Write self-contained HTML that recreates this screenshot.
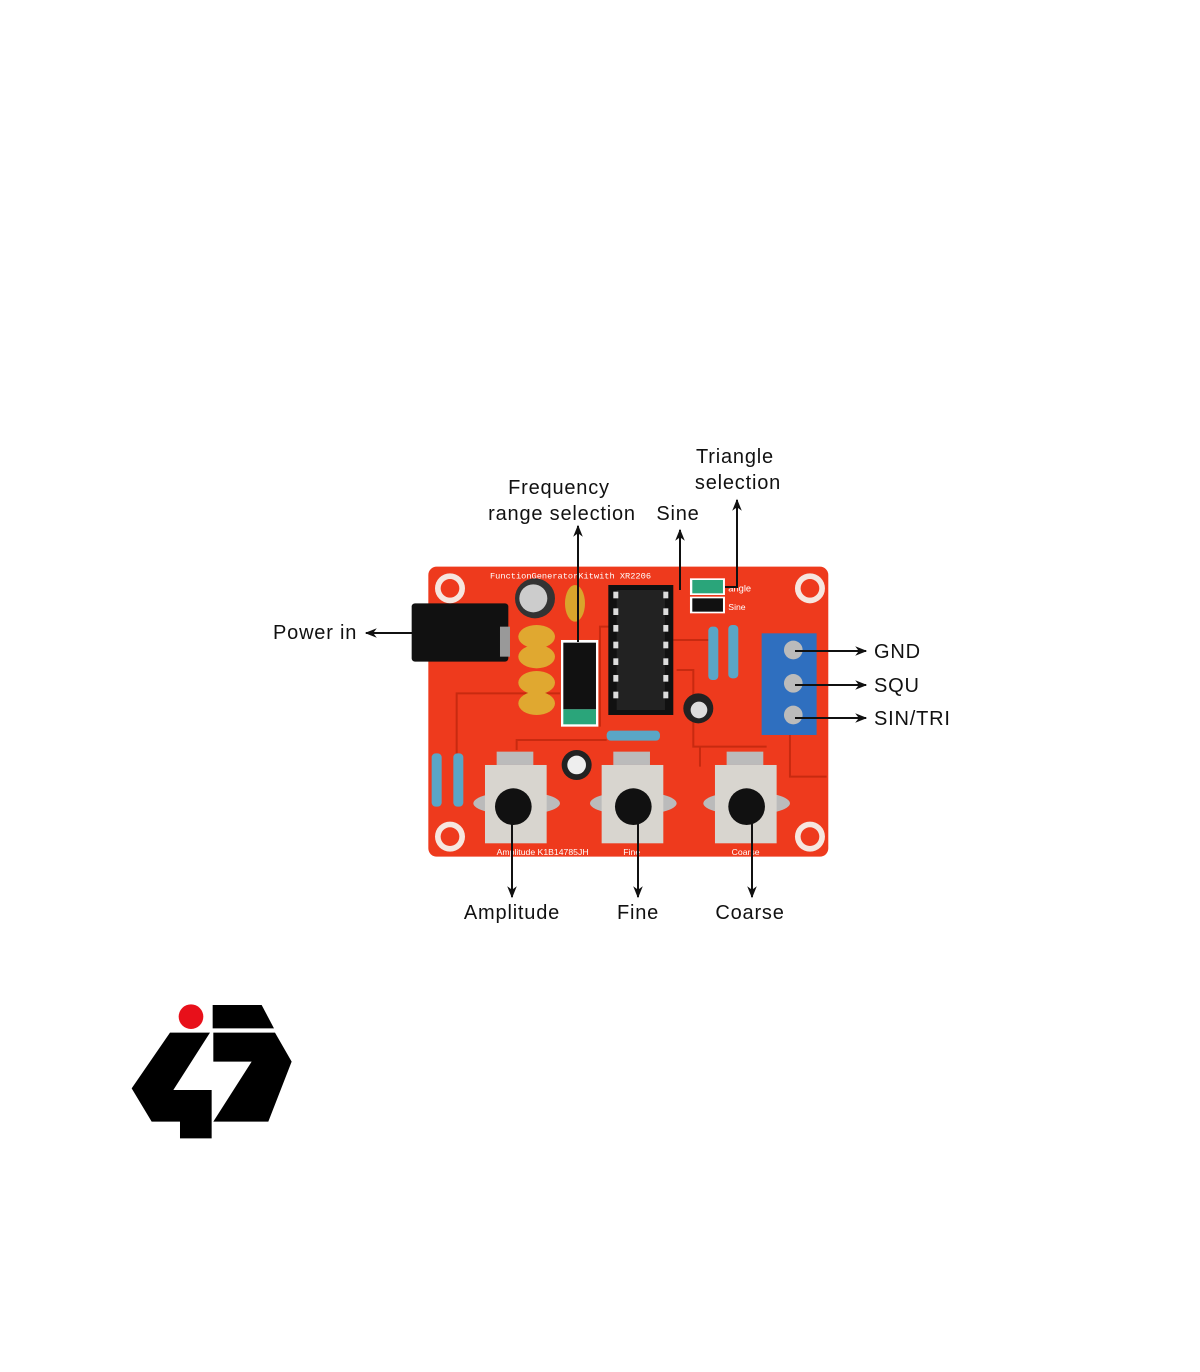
<!DOCTYPE html>
<html><head><meta charset="utf-8"><style>
html,body{margin:0;padding:0;background:#fff;}
body{width:1200px;height:1372px;position:relative;overflow:hidden;font-family:"Liberation Sans",sans-serif;}
svg{position:absolute;left:0;top:0;}
</style></head><body>
<svg width="1200" height="1372" viewBox="0 0 1200 1372" xmlns="http://www.w3.org/2000/svg">
<defs>
<marker id="ah" viewBox="0 0 10 10" refX="9" refY="5" markerWidth="16" markerHeight="12" orient="auto-start-reverse" markerUnits="userSpaceOnUse">
<path d="M0,1 L10,5 L0,9 L3,5 z" fill="#111"/></marker>
</defs>
<!-- board -->
<g transform="translate(400,560) scale(0.3333)">
<rect x="85" y="20" width="1200" height="870" rx="25" fill="#ee3a1d"/>
<g fill="none" stroke="#c82a10" stroke-width="6">
<path d="M170 620 V400 H480"/><path d="M350 570 V540 H620"/><path d="M820 240 H930"/>
<path d="M830 330 H880 V560 H1100"/><path d="M900 560 V620"/><path d="M1170 520 V650 H1280"/>
<path d="M600 500 V200 H630"/>
</g>
<g fill="#f6e6df"><circle cx="150" cy="85" r="45"/><circle cx="1230" cy="85" r="45"/><circle cx="150" cy="830" r="45"/><circle cx="1230" cy="830" r="45"/></g>
<g fill="#ee3a1d"><circle cx="150" cy="85" r="28"/><circle cx="1230" cy="85" r="28"/><circle cx="150" cy="830" r="28"/><circle cx="1230" cy="830" r="28"/></g>
<text x="270" y="55" font-size="26" fill="#fff" font-family="Liberation Mono,monospace">FunctionGeneratorKitwith XR2206</text>
<rect x="35" y="130" width="290" height="175" rx="10" fill="#111"/>
<rect x="300" y="200" width="30" height="90" fill="#999"/>
<circle cx="405" cy="115" r="60" fill="#333"/><circle cx="400" cy="115" r="42" fill="#ccc"/>
<ellipse cx="525" cy="130" rx="30" ry="55" fill="#d9a52c"/>
<g fill="#e0a830"><ellipse cx="410" cy="230" rx="55" ry="35"/><ellipse cx="410" cy="290" rx="55" ry="35"/><ellipse cx="410" cy="368" rx="55" ry="35"/><ellipse cx="410" cy="430" rx="55" ry="35"/></g>
<rect x="483" y="240" width="112" height="260" fill="#fff"/><rect x="490" y="248" width="98" height="200" fill="#111"/><rect x="490" y="448" width="98" height="45" fill="#2aa57a"/>
<rect x="625" y="75" width="195" height="390" fill="#111"/>
<rect x="650" y="90" width="145" height="360" fill="#222"/>
<g fill="#ddd"><rect x="640" y="95" width="15" height="20"/><rect x="640" y="145" width="15" height="20"/><rect x="640" y="195" width="15" height="20"/><rect x="640" y="245" width="15" height="20"/><rect x="640" y="295" width="15" height="20"/><rect x="640" y="345" width="15" height="20"/><rect x="640" y="395" width="15" height="20"/><rect x="790" y="95" width="15" height="20"/><rect x="790" y="145" width="15" height="20"/><rect x="790" y="195" width="15" height="20"/><rect x="790" y="245" width="15" height="20"/><rect x="790" y="295" width="15" height="20"/><rect x="790" y="345" width="15" height="20"/><rect x="790" y="395" width="15" height="20"/></g>
<rect x="870" y="55" width="105" height="50" fill="#fff"/><rect x="877" y="60" width="92" height="40" fill="#2aa57a"/>
<rect x="870" y="110" width="105" height="50" fill="#fff"/><rect x="877" y="115" width="92" height="40" fill="#111"/>
<text x="985" y="95" font-size="28" fill="#fff">angle</text><text x="985" y="150" font-size="26" fill="#fff">Sine</text>
<g fill="#5aa6c6"><rect x="925" y="200" width="30" height="160" rx="12"/><rect x="985" y="195" width="30" height="160" rx="12"/><rect x="620" y="512" width="160" height="30" rx="12"/><rect x="95" y="580" width="30" height="160" rx="12"/><rect x="160" y="580" width="30" height="160" rx="12"/></g>
<circle cx="895" cy="445" r="45" fill="#222"/><circle cx="897" cy="450" r="25" fill="#ddd"/>
<circle cx="530" cy="615" r="45" fill="#222"/><circle cx="530" cy="615" r="28" fill="#eee"/>
<rect x="1085" y="220" width="165" height="305" fill="#2f6fbf"/>
<g fill="#bbb"><circle cx="1180" cy="270" r="28"/><circle cx="1180" cy="370" r="28"/><circle cx="1180" cy="465" r="28"/></g>
<g><ellipse cx="350" cy="730" rx="130" ry="35" fill="#bbb"/><rect x="255" y="615" width="185" height="235" fill="#d8d5cf"/><circle cx="340" cy="740" r="55" fill="#111"/><rect x="290" y="575" width="110" height="40" fill="#bbb"/></g>
<g><ellipse cx="700" cy="730" rx="130" ry="35" fill="#bbb"/><rect x="605" y="615" width="185" height="235" fill="#d8d5cf"/><circle cx="700" cy="740" r="55" fill="#111"/><rect x="640" y="575" width="110" height="40" fill="#bbb"/></g>
<g><ellipse cx="1040" cy="730" rx="130" ry="35" fill="#bbb"/><rect x="945" y="615" width="185" height="235" fill="#d8d5cf"/><circle cx="1040" cy="740" r="55" fill="#111"/><rect x="980" y="575" width="110" height="40" fill="#bbb"/></g>
<text x="290" y="885" font-size="26" fill="#fff">Amplitude K1B14785JH</text><text x="670" y="885" font-size="26" fill="#fff">Fine</text><text x="995" y="885" font-size="26" fill="#fff">Coarse</text>
</g>
<g stroke="#111" stroke-width="2" fill="none">
<line x1="578" y1="642" x2="578" y2="526" marker-end="url(#ah)"/>
<line x1="680" y1="590" x2="680" y2="530" marker-end="url(#ah)"/>
<polyline points="725,587 737,587 737,500" marker-end="url(#ah)"/>
<line x1="430" y1="633" x2="366" y2="633" marker-end="url(#ah)"/>
<line x1="795" y1="651" x2="866" y2="651" marker-end="url(#ah)"/>
<line x1="795" y1="685" x2="866" y2="685" marker-end="url(#ah)"/>
<line x1="795" y1="718" x2="866" y2="718" marker-end="url(#ah)"/>
<line x1="512" y1="815" x2="512" y2="897" marker-end="url(#ah)"/>
<line x1="638" y1="815" x2="638" y2="897" marker-end="url(#ah)"/>
<line x1="752" y1="815" x2="752" y2="897" marker-end="url(#ah)"/>
</g>
<g font-size="20" fill="#111" font-family="Liberation Sans,sans-serif" letter-spacing="0.8">
<text x="735" y="463" text-anchor="middle">Triangle</text>
<text x="738" y="489" text-anchor="middle">selection</text>
<text x="559" y="494" text-anchor="middle">Frequency</text>
<text x="562" y="520" text-anchor="middle">range selection</text>
<text x="678" y="520" text-anchor="middle">Sine</text>
<text x="273" y="639">Power in</text>
<text x="874" y="658">GND</text>
<text x="874" y="692">SQU</text>
<text x="874" y="725">SIN/TRI</text>
<text x="512" y="919" text-anchor="middle">Amplitude</text>
<text x="638" y="919" text-anchor="middle">Fine</text>
<text x="750" y="919" text-anchor="middle">Coarse</text>
</g>
<g transform="translate(120,990) scale(0.3333)">
<circle cx="213" cy="80" r="37" fill="#e8101a"/>
<polygon points="278,45 425,45 462,115 278,115" fill="#000"/>
<polygon points="150,128 270,128 160,300 275,300 275,445 180,445 180,395 95,395 35,295" fill="#000"/>
<polygon points="280,128 465,128 515,215 445,395 280,395 395,215 280,215" fill="#000"/>
</g>
</svg>
</body></html>
